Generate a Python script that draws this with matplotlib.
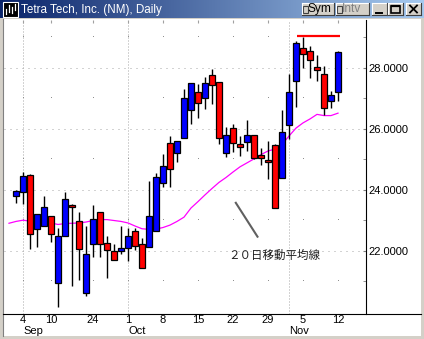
import matplotlib
matplotlib.use('Agg')
import matplotlib.pyplot as plt
import matplotlib.transforms as mtransforms
from matplotlib.patches import Rectangle
import numpy as np

# ---------------- data ----------------
title = 'Tetra Tech, Inc. (NM), Daily'
dates = ['2001-08-30', '2001-08-31', '2001-09-04', '2001-09-05', '2001-09-06', '2001-09-07',
         '2001-09-10', '2001-09-17', '2001-09-18', '2001-09-19', '2001-09-20', '2001-09-21',
         '2001-09-24', '2001-09-25', '2001-09-26', '2001-09-27', '2001-09-28', '2001-10-01',
         '2001-10-02', '2001-10-03', '2001-10-04', '2001-10-05', '2001-10-08', '2001-10-09',
         '2001-10-10', '2001-10-11', '2001-10-12', '2001-10-15', '2001-10-16', '2001-10-17',
         '2001-10-18', '2001-10-19', '2001-10-22', '2001-10-23', '2001-10-24', '2001-10-25',
         '2001-10-26', '2001-10-29', '2001-10-30', '2001-10-31', '2001-11-01', '2001-11-02',
         '2001-11-05', '2001-11-06', '2001-11-07', '2001-11-08', '2001-11-09', '2001-11-12']
# candles start on dates[1]
opens = [23.80, 23.94, 24.49, 22.71, 22.81, 23.14, 20.94, 22.48, 23.50, 22.97, 20.61, 22.22,
         23.27, 22.25, 21.99, 21.98, 22.09, 22.65, 22.23, 22.12, 22.65, 24.22, 25.53, 25.20,
         25.70, 26.61, 27.20, 27.01, 27.76, 27.53, 25.20, 26.02, 25.50, 25.56, 25.79, 25.14,
         24.97, 25.45, 24.37, 26.12, 27.58, 28.65, 28.55, 28.02, 27.79, 26.91, 27.20]
highs = [24.00, 24.59, 24.52, 23.20, 23.80, 23.14, 22.76, 23.91, 23.54, 23.28, 22.82, 23.51,
         23.27, 22.49, 22.23, 22.80, 22.74, 22.76, 22.42, 24.27, 24.55, 25.17, 25.77, 25.61,
         27.30, 27.50, 27.47, 27.70, 27.97, 27.53, 26.06, 26.15, 25.77, 26.29, 25.79, 25.37,
         25.60, 25.50, 26.62, 27.80, 28.86, 29.01, 28.71, 28.42, 28.06, 27.22, 28.56]
lows = [23.57, 23.54, 22.07, 22.11, 22.81, 22.30, 20.17, 22.48, 20.83, 21.03, 20.50, 21.78,
        21.81, 21.10, 21.68, 21.89, 21.67, 22.01, 21.43, 22.12, 22.65, 24.09, 24.09, 24.90,
        25.70, 26.14, 26.35, 26.63, 26.81, 25.50, 25.07, 25.22, 25.12, 25.27, 25.00, 24.81,
        24.34, 23.40, 24.37, 25.66, 26.70, 27.98, 27.65, 27.58, 26.46, 26.68, 26.91]
closes = [23.97, 24.44, 22.55, 23.20, 23.43, 22.55, 22.47, 23.70, 23.43, 22.06, 21.89, 23.04,
          22.22, 22.01, 21.68, 22.09, 22.48, 22.15, 21.43, 23.15, 24.43, 24.78, 24.68, 25.61,
          27.01, 27.50, 26.84, 27.50, 27.44, 25.70, 25.79, 25.53, 25.40, 25.79, 25.04, 25.04,
          24.91, 23.40, 25.89, 27.20, 28.81, 28.45, 28.25, 27.91, 26.68, 27.10, 28.51]
# 20-day moving average, one value per date (starts on dates[0])
ma20 = [22.90, 22.96, 23.00, 22.97, 22.94, 22.92, 22.91, 22.86, 22.89, 22.90, 22.91, 22.94,
        22.99, 23.02, 23.02, 22.99, 22.96, 22.91, 22.81, 22.72, 22.70, 22.71, 22.76, 22.84,
        22.96, 23.10, 23.40, 23.61, 23.83, 24.04, 24.24, 24.40, 24.58, 24.75, 24.88, 25.01,
        25.15, 25.27, 25.33, 25.48, 25.76, 26.02, 26.19, 26.32, 26.47, 26.43, 26.43, 26.51]
tick_days = ['2001-09-04', '2001-09-10', '2001-09-24', '2001-10-01', '2001-10-08', '2001-10-15',
             '2001-10-22', '2001-10-29', '2001-11-05', '2001-11-12']
tick_labels = ['4', '10', '24', '1', '8', '15', '22', '29', '5', '12']
month_starts = ['2001-09-04', '2001-10-01', '2001-11-01']
month_labels = ['Sep', 'Oct', 'Nov']
ytick_values = [22, 24, 26, 28]
odd_levels = [21, 23, 25, 27, 29]
resistance = 29.03
resistance_from, resistance_to = '2001-11-02', '2001-11-12'
annotation = '２０日移動平均線'

# ---------------- layout ----------------
W, H = 424, 339
fig = plt.figure(figsize=(W / 100, H / 100), dpi=100)
fig.patch.set_facecolor('#d4d0c8')


def fr(x0, y0, x1, y1):
    return [x0 / W, 1 - y1 / H, (x1 - x0) / W, (y1 - y0) / H]


bg = fig.add_axes([0, 0, 1, 1])
bg.set_zorder(0)
bg.axis('off')
bg.add_patch(Rectangle((3, 19), 418, 317, facecolor='white', edgecolor='none'))
bg.plot([3, 3], [19, 336], color='#808080', lw=0.8)
# title bar gradient
g = np.linspace(0, 1, 256)
c0 = np.array([10, 36, 106]) / 255
c1 = np.array([166, 202, 240]) / 255
grad = c0[None, :] * (1 - g[:, None]) + c1[None, :] * g[:, None]
bg.imshow(grad[None, :, :], extent=(0, W, 18, 0), aspect='auto', interpolation='bilinear')
bg.set_xlim(0, W)
bg.set_ylim(H, 0)
# icon
bg.add_patch(Rectangle((3, 1.5), 15, 15, facecolor='black', edgecolor='white', lw=0.8))
for xx, ya, yb in [(6, 9, 14), (9, 5, 12), (12, 7, 13), (15, 4, 10)]:
    bg.plot([xx, xx], [ya, yb], color='white', lw=0.9)
bg.text(21, 9.5, title, color='white', fontsize=8.4, family='Liberation Sans',
        va='center', ha='left')


def button(x0, y0, x1, y1):
    bg.add_patch(Rectangle((x0, y0), x1 - x0, y1 - y0, facecolor='#d4d0c8', edgecolor='none'))
    bg.plot([x0, x1], [y0, y0], color='white', lw=0.8)
    bg.plot([x0, x0], [y0, y1], color='white', lw=0.8)
    bg.plot([x0, x1], [y1, y1], color='#404040', lw=0.8)
    bg.plot([x1, x1], [y0, y1], color='#404040', lw=0.8)


button(302, 3, 334, 15)
button(336, 3, 369, 15)
button(372, 3, 387, 15)
button(388, 3, 403, 15)
button(406, 3, 421, 15)
for bx in (303, 337):
    bg.add_patch(Rectangle((bx, 5.5), 4.5, 7, facecolor='#d4d0c8', edgecolor='#404040', lw=0.8))
bg.text(308, 9.3, 'Sym', fontsize=8.6, family='Liberation Sans', va='center', ha='left', color='black')
bg.text(342, 9.3, 'Intv', fontsize=8.6, family='Liberation Sans', va='center', ha='left', color='#808080')
bg.plot([376, 382], [12.5, 12.5], color='black', lw=1.4)
bg.add_patch(Rectangle((391, 5.5), 9, 7.5, facecolor='none', edgecolor='black', lw=1.2))
bg.plot([392, 399], [5.7, 5.7], color='black', lw=1.6)
bg.plot([410, 417], [5.5, 12.5], color='black', lw=1.3)
bg.plot([410, 417], [12.5, 5.5], color='black', lw=1.3)
# bottom axis line across the window
bg.plot([3, 421], [314, 314], color='black', lw=0.8)

# ---------------- main axes ----------------
ax = fig.add_axes(fr(4, 20, 366, 314))
ax.set_zorder(2)
ax.patch.set_alpha(0)
x_left, x_right = -0.714, 51.0
y_bot, y_top = 19.925, 29.564
ax.set_xlim(x_left, x_right)
ax.set_ylim(y_bot, y_top)

idx = {d: i for i, d in enumerate(dates)}
xs = np.arange(1, len(dates))
o = np.array(opens); c = np.array(closes); h = np.array(highs); l = np.array(lows)

# grid
ax.hlines(ytick_values, x_left, x_right, color='#a8a8a8', lw=0.72,
          linestyle=(0, (1, 5)), zorder=1)
mx = [idx[d] for d in month_starts]
ax.vlines(mx, y_bot, y_top, color='#a8a8a8', lw=0.72, linestyle=(0, (1, 2)), zorder=1)
tx = [idx[d] for d in tick_days]
gx, gy = np.meshgrid(tx, odd_levels)
ax.plot(gx.ravel(), gy.ravel(), ',', color='#909090', zorder=1)

# moving average
ax.plot(np.arange(len(dates)), ma20, color='#ff00ff', lw=0.9, zorder=2)

# candles
ax.vlines(xs, l, h, color='black', lw=1.0, zorder=3)
cols = np.where(c >= o, '#0000ff', '#ff0000')
body = np.maximum(np.abs(c - o), 0.07)
ax.bar(xs, body, bottom=np.minimum(o, c), width=0.72, color=cols, edgecolor='black',
       linewidth=0.9, zorder=4)

# resistance line
ax.hlines(resistance, idx[resistance_from] + 0.1, idx[resistance_to] + 0.3, color='#ff0000',
          lw=1.6, zorder=5)

# annotation
ax.plot([32.4, 35.5], [23.57, 22.46], color='#606060', lw=1.5, zorder=5)
ax.text(37.9, 21.86, annotation, ha='center', va='center', fontsize=8.3,
        family=['Noto Sans CJK JP', 'DejaVu Sans'], color='#202020', zorder=5)

# axes styling
for s in ['left', 'top', 'bottom']:
    ax.spines[s].set_visible(False)
ax.spines['right'].set_color('black')
ax.spines['right'].set_linewidth(0.8)

ax.yaxis.tick_right()
ax.set_yticks(ytick_values)
ax.set_yticklabels([f'{v:.4f}' for v in ytick_values])
ax.set_yticks(odd_levels, minor=True)
ax.tick_params(axis='y', which='both', direction='in', length=2.5, color='#808080',
               labelsize=8, pad=1.5, labelcolor='black')
for t in ax.get_yticklabels():
    t.set_family('Liberation Sans')

ax.set_xticks(tx)
ax.set_xticklabels(tick_labels)
ax.tick_params(axis='x', which='both', top=True, bottom=False, direction='in', length=2.5,
               color='#a0a0a0', labelsize=8, pad=0.5, labelbottom=True)
for t in ax.get_xticklabels():
    t.set_family('Liberation Sans')

trans = mtransforms.blended_transform_factory(ax.transData, ax.transAxes)
for d, lab in zip(month_starts, month_labels):
    ax.text(idx[d] + 0.05, -0.057, lab, transform=trans, ha='left', va='center',
            fontsize=8, family='Liberation Sans', color='black')

fig.savefig('out.png', dpi=100, facecolor=fig.get_facecolor())
